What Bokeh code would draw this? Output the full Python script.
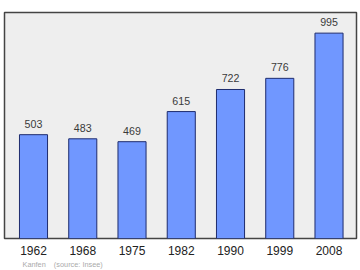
from bokeh.plotting import figure
from bokeh.models import ColumnDataSource, FixedTicker, Range1d, Title
from bokeh.core.properties import value
from bokeh.embed import file_html
from bokeh.resources import INLINE

years = ["1962", "1968", "1975", "1982", "1990", "1999", "2008"]
population = [503, 483, 469, 615, 722, 776, 995]
caption = "Kanfen\u00a0\u00a0\u00a0\u00a0(source: Insee)"

xs = list(range(len(years)))
src = ColumnDataSource(dict(x=xs, top=population, label=[str(v) for v in population]))

p = figure(width=360, height=270, output_backend="svg", toolbar_location=None,
           x_range=Range1d(-0.589, 6.558), y_range=Range1d(0, 1095),
           min_border_left=4, min_border_right=4, min_border_top=12, min_border_bottom=32)
p.background_fill_color = "#eeeeee"
p.border_fill_color = "white"
p.outline_line_color = "#444444"
p.outline_line_width = 1.5
p.grid.visible = False
p.yaxis.visible = False

p.vbar(x="x", top="top", width=0.57, bottom=0, source=src,
       fill_color="#7097ff", line_color="#1e2c6e", line_width=1)
p.text(x="x", y="top", text="label", source=src, text_align="center",
       text_baseline="bottom", y_offset=-7, text_font_size="8pt",
       text_font=value("Liberation Sans"), text_color="#3a3a3a")

ax = p.xaxis[0]
ax.ticker = FixedTicker(ticks=xs)
ax.major_label_overrides = {i: y for i, y in enumerate(years)}
ax.axis_line_color = None
ax.major_tick_line_color = None
ax.minor_tick_line_color = None
ax.major_label_text_font = "Liberation Sans"
ax.major_label_text_font_size = "9pt"
ax.major_label_text_color = "#222222"
ax.major_label_standoff = 1

cap = Title(text=caption, text_font_size="5.5pt", text_font="Liberation Sans",
            text_color="#aaaaaa", text_font_style="normal", align="left",
            offset=18, standoff=0)
p.add_layout(cap, "below")

open("out.html", "w").write(file_html(p, INLINE))
